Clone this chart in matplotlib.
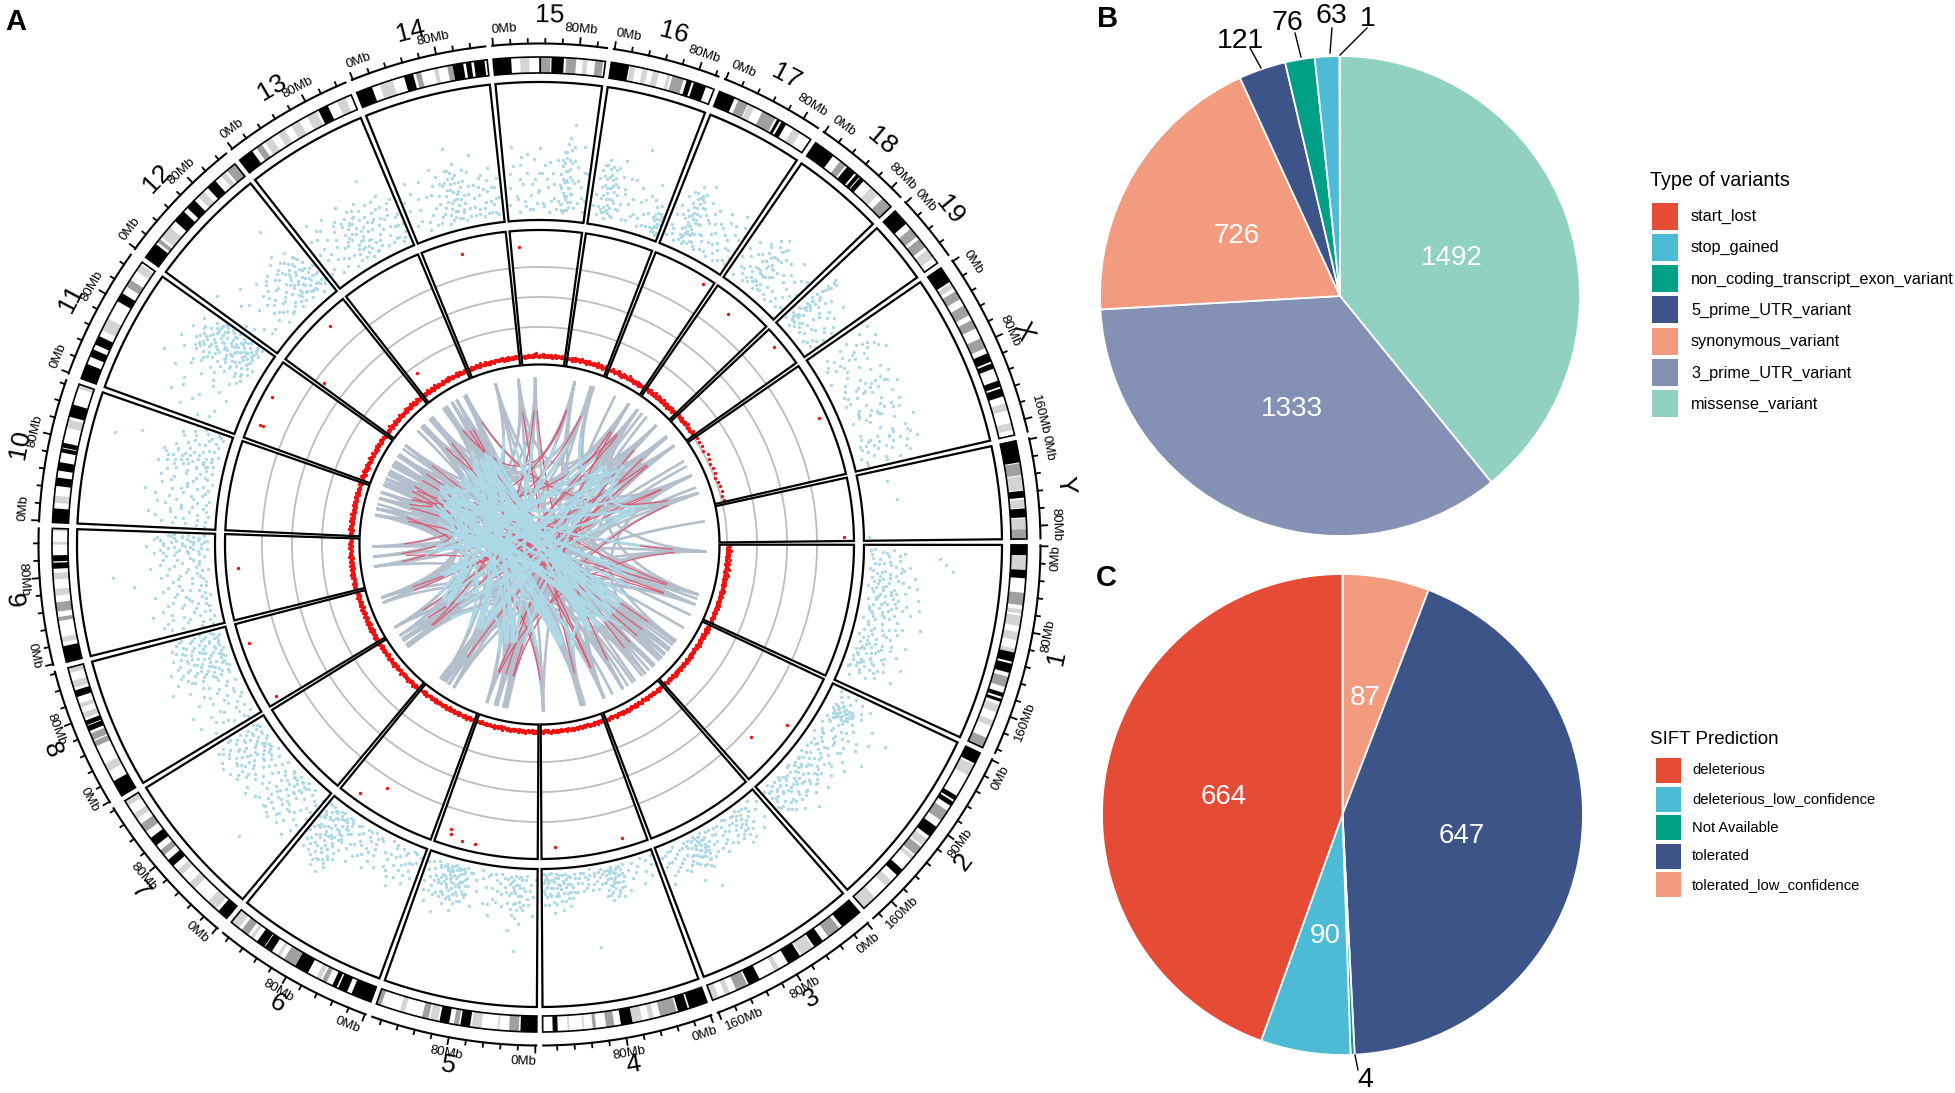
import numpy as np
import matplotlib
matplotlib.use("Agg")
import matplotlib.pyplot as plt
from matplotlib.patches import Polygon, Rectangle

plt.rcParams['font.family'] = ['Liberation Sans', 'DejaVu Sans']

# ---------- data ----------
chrom_names = ['1','2','3','4','5','6','7','8','9','10','11','12','13','14','15','16','17','18','19','X','Y']
chrom_sizes = [195,182,160,156,152,150,145,129,125,131,122,120,120,125,104,98,95,91,61,171,91]

K,D,L = '#000000','#a0a0a0','#d4d4d4'
bands_pct = [
 [(0,5,K),(5,12,L),(12,16,K),(23,29,D),(31,33,L),(34,39,L),(42,46,L),(50,52,L),(52,56.5,K),(57.5,62,K),(64,69,D),(72,74,K),(75,76.5,K),(78,82,L),(86,89,L),(95,100,D)],
 [(0,6,K),(7,13,L),(25,27.5,K),(28.5,31,K),(34,40,D),(44,50,K),(52,56,L),(57,62,D),(63,65,L),(72,76,K),(80,84,L),(92,100,L)],
 [(0,13,K),(15,23,D),(27,33,K),(34,42,L),(43,51,K),(57,60,L),(70,77,K),(78,85,D),(89,92,L),(96,100,L)],
 [(0,11,K),(12,18,K),(19,29,D),(33,36,L),(40,46,L),(46,53,K),(57,62,D),(68,70,D),(75,76,L),(84,85,L),(91,94,K)],
 [(0,10,K),(11,17,D),(23,24,L),(34,40,L),(41,47,K),(48,51,D),(54,60,K),(61,66,L),(67,71,D),(82,85,L),(97,100,D)],
 [(0,13,K),(16,22,K),(23,26,K),(30,33,D),(34,37,L),(43,52,K),(52,60,D),(63,65,L),(69,74,K),(74.5,80,K),(83,85,L),(87,92,D),(94,100,L)],
 [(0,7,K),(9,16,L),(28,33,L),(40,44,L),(48,53,K),(57,61,D),(65,71,K),(76,82,D),(86,90,L),(96,100,L)],
 [(0,12,K),(20,26,L),(40,44,D),(45,50,D),(52,56,K),(56.6,60,K),(62,66,L),(70,73,L),(78,83,K),(85,90,L),(96,100,L)],
 [(0,12,K),(15,19,L),(31,34,D),(38,45,D),(50,55,L),(62,67,L),(70,74.5,K),(75.5,80,K),(88,90,L),(98,100,L)],
 [(0,10,K),(14,19,L),(26,32,K),(37,43,K),(50,53,K),(53.6,57,K),(68,74,L),(76,85,K),(97,100,L)],
 [(0,12,K),(18,24,K),(28,35,K),(40,50,L),(65,72,K),(78,84,D),(92,98,L)],
 [(0,13,K),(15,18,D),(20,30,L),(36,46,K),(50,58,K),(62,68,L),(72,80,K),(86,90,L),(92,100,D)],
 [(0,12,K),(16,21,D),(24,30,L),(36,42,L),(48,55,L),(62,70,L),(72,80,K),(88,95,L)],
 [(0,12,K),(18,28,L),(37,44,K),(46,50,D),(60,63,L),(70,74,D),(74,82,K),(84,88,K),(90,98,K)],
 [(0,16,K),(24,32,L),(41,43,K),(43,51,D),(52,63,K),(65,74,D),(80,84,L),(91,98,D)],
 [(0,17,K),(18,23,L),(30,35,L),(40,46,L),(54,57,L),(59,70,D),(73,78,K),(80,92,K)],
 [(0,16,K),(20,30,D),(31,37,L),(46,60,D),(62,65,K),(67,72,K),(80,88,L)],
 [(0,22,K),(31,38,D),(40,50,K),(52,56,K),(57,62,K),(72,82,L),(88,100,D)],
 [(0,25,K),(35,50,D),(55,70,D),(75,90,L)],
 [(0,9,K),(10,13,L),(15,20,D),(24,30,D),(33,38,D),(44,50,D),(53,58,K),(59,62,K),(69,72.5,K),(73.5,78,K),(82,86,L),(93,97,L)],
 [(0,22,K),(23,35,D),(36,50,L),(51,58,K),(60,68,L),(69,78,K),(79,90,L),(90,100,D)],
]

# pie B
b_names  = ['start_lost','stop_gained','non_coding_transcript_exon_variant','5_prime_UTR_variant','synonymous_variant','3_prime_UTR_variant','missense_variant']
b_counts = [1,63,76,121,726,1333,1492]
b_colors = ['#E64B35','#4DBBD5','#00A087','#3C5488','#F39B7F','#8491B4','#91D1C2']
# pie C
c_names  = ['deleterious','deleterious_low_confidence','Not Available','tolerated','tolerated_low_confidence']
c_counts = [664,90,4,647,87]
c_colors = ['#E64B35','#4DBBD5','#00A087','#3C5488','#F39B7F']

# scatter track: flat lists position %, height %, position %, height % ...
s1 = [2,8,3,22,4,14,5,30,6,6,7,18,8,55,9,12,10,26,11,60,12,8,13,20,14,34,15,65,16,5,17,16,18,28,19,10,20,24,21,38,22,7,23,15,24,30,25,20,26,12,27,40,28,5,29,24,30,16,31,32,32,9,33,22,34,42,35,13,36,28,37,6,38,18,39,34,40,44,41,10,42,24,43,15,44,38,45,8,46,27,47,18,49,12,50,30,51,5,52,48,53,20,54,35,55,10,56,26,57,15,58,32,59,8,60,22,61,14,62,28,63,5,64,18,65,40,66,12,67,24,68,7,69,30,70,16,71,10,72,36,73,20,74,6,75,14,76,26,77,9,78,18,79,42,80,12,81,22,82,7,83,30,84,16,85,10,86,24,87,5,88,38,89,14,91,20,93,8,
      3,5,5,17,7,26,9,7,11,19,13,11,15,28,17,7,19,20,21,13,23,26,25,9,27,18,29,11,31,22,33,14,35,24,37,12,39,20,41,27,43,8,45,18,47,11,49,24,51,14,53,9,55,30,57,21,59,13,61,25,63,12,65,9,67,18,69,12,71,22,73,9,75,28,77,18,79,6,81,14,83,10,85,20,87,13,89,26,22,20,24,12,26,34,28,16,30,8,32,26,34,18,36,12,38,26,40,16,42,32,44,22,46,10,48,20,12,15,14,24,16,30,18,14,66,30,68,14,70,24,72,12,74,18,76,8,78,28,80,20,82,12,84,26,86,6]
s2 = [2,8,3,20,4,14,5,26,6,10,7,34,8,18,9,12,10,28,11,15,12,9,13,22,13,17,14,12,14,30,15,19,15,8,16,24,16,14,17,10,18,20,18,42,19,16,20,26,21,13,22,55,23,7,24,30,25,18,26,11,27,44,28,22,29,6,30,36,31,15,32,25,33,9,34,38,35,20,36,12,37,30,38,5,39,22,40,48,41,14,42,28,43,8,44,18,45,35,46,11,47,24,48,15,49,40,50,7,51,20,52,30,53,12,54,25,55,17,56,6,57,34,58,22,59,10,60,28,61,16,62,8,63,24,64,38,65,13,66,20,67,30,68,9,69,18,70,26,71,12,72,34,73,6,74,22,75,15,76,28,77,10,78,42,79,18,80,24,81,8,82,30,83,14,84,20,85,36,86,11,87,25,88,7,89,17,90,32,91,13,92,22,93,5,94,28,95,16,96,10,97,24,98,7,
      12,14,13,11,13,20,14,16,14,24,15,12,15,22,16,18,17,14,17,22,18,12,18,17,19,10,19,22,20,14,20,20,21,18,22,12,23,20,25,10,27,26,29,16,31,30,33,20,35,10,37,22,39,12,41,30,43,20,45,12,47,8,49,18,51,28,53,20,55,10,57,14,59,24,61,8,63,16,65,28,67,12,69,24,71,6,73,18,75,28,77,20,79,10,81,26,83,6,85,18,87,12,89,26,91,8,93,16,95,24,97,14,60,18,62,26,64,12,66,8,68,30,70,14,72,22,74,10,76,18,78,30,80,12,82,18,84,8,86,28,88,16,90,12,92,30,94,10,96,18,98,22]
s3 = [3,8,6,20,8,12,10,4,12,26,14,10,16,18,18,6,20,14,21,28,22,9,23,20,24,4,25,15,26,30,27,10,28,22,30,6,32,16,34,10,36,24,38,4,40,12,42,18,44,6,46,26,48,10,50,15,52,5,54,22,56,12,58,8,59,18,60,4,60,13,61,24,61,9,62,17,62,30,63,6,63,12,64,21,64,45,65,15,65,8,66,26,67,11,67,4,68,19,69,13,70,7,71,24,72,16,73,36,74,10,75,20,76,5,78,14,80,26,82,8,84,18,86,4,88,12,90,22,92,6,94,14,96,30,98,9,
      15,7,17,13,19,22,21,6,22,17,23,12,24,24,25,8,26,20,27,16,28,6,29,13,30,24,31,10,33,20,35,5,37,14,39,22,41,8,43,14,45,20,47,6,49,22,51,10,53,16,55,5,57,24,58,15,59,9,60,20,61,15,62,6,62,24,63,18,64,10,64,28,65,20,66,6,66,15,67,20,68,10,68,26,69,6,70,17,71,11,72,5,73,22,74,16,75,8,77,22,79,8,81,16,83,24,85,10,87,20,89,6,91,14,93,24,95,8,97,16]
s4 = [2,4,4,10,6,18,8,6,10,14,12,3,14,22,16,8,18,12,20,5,22,16,24,9,26,24,28,4,29,13,30,20,31,7,32,27,33,11,34,16,34,5,35,22,36,9,37,26,38,14,39,4,40,18,41,8,42,28,43,12,44,20,45,6,46,15,48,4,50,10,52,18,54,6,56,14,58,60,58,3,60,10,62,16,64,5,66,12,68,8,70,18,72,5,74,14,75,22,76,7,77,28,78,12,79,18,80,4,81,24,82,9,83,30,84,15,85,5,86,20,87,11,88,26,89,7,90,32,91,14,92,3,93,20,94,9,95,26,96,13,97,5,98,18,99,10,
      30,10,31,16,32,5,33,20,34,11,35,6,36,16,36,24,37,12,38,8,38,20,39,16,40,6,40,12,41,22,42,6,42,17,43,24,44,9,45,14,46,24,47,8,49,15,51,6,53,12,55,8,57,18,59,7,61,13,63,8,65,18,67,5,69,12,71,8,73,18,75,12,76,18,77,6,78,22,79,8,80,14,81,11,82,18,83,5,84,24,85,12,86,7,87,18,88,4,88,14,89,20,90,10,91,24,92,8,93,14,94,4,94,18,95,10,96,20,96,7,97,14,98,8,98,26,99,16,99,4]
s5 = [1,8,3,20,4,34,5,12,7,26,9,5,10,16,12,30,13,8,14,20,15,40,16,12,17,60,18,25,19,6,20,16,21,34,22,10,23,45,24,20,26,8,28,14,30,28,32,5,34,18,36,10,38,24,40,36,42,6,44,16,46,28,48,10,50,4,52,20,54,12,56,32,58,8,60,18,62,26,63,5,64,14,65,22,66,10,67,30,68,16,69,7,70,24,71,12,72,38,73,18,74,5,75,28,76,14,77,8,78,22,79,34,80,10,81,18,82,26,83,6,84,14,85,42,86,20,87,9,88,30,89,16,90,5,91,24,92,11,93,36,94,18,95,7,96,28,97,13,98,22,99,8,
      6,16,8,22,10,8,11,26,12,14,13,20,14,6,14,28,15,14,15,24,16,7,16,20,17,30,18,12,18,36,19,18,20,9,20,26,21,14,22,18,22,30,23,7,24,12,25,26,27,18,29,8,31,20,33,12,35,26,37,6,39,16,41,28,43,8,60,8,61,24,62,12,63,18,64,24,65,8,65,30,66,16,67,6,67,20,68,10,68,26,69,18,70,8,70,32,71,20,71,6,72,14,72,26,73,8,73,30,74,12,74,22,75,6,75,18,76,24,76,10,77,16,77,30,78,12,78,6,79,20,79,10,80,28,80,16,81,8,81,26,82,14,83,20,83,30,84,8,85,16,86,28,87,18,88,8,90,20,92,28]
s6 = [2,8,5,24,7,14,9,5,11,30,13,16,15,10,17,22,19,6,21,36,23,14,25,8,27,26,29,18,31,4,34,14,37,28,40,8,42,20,44,12,46,32,48,5,50,18,52,10,54,26,56,6,58,16,60,34,62,12,64,22,66,7,68,15,70,30,71,10,72,46,73,22,74,14,75,38,76,6,77,28,78,18,79,44,80,10,81,32,82,24,83,5,84,16,85,40,86,26,87,12,88,20,89,35,90,7,91,15,92,30,93,10,94,22,95,42,96,14,97,6,98,26,99,18,82,50,76,52,88,8,72,8,
      4,12,6,6,8,20,10,14,12,24,14,8,16,18,18,28,20,12,22,20,24,30,26,6,28,14,30,24,42,6,43,16,44,26,45,8,47,20,49,12,51,24,53,6,55,18,57,28,59,10,61,20,63,6,65,26,70,16,70,38,71,24,72,14,72,34,73,6,73,40,74,24,74,44,75,12,75,20,76,30,76,42,77,10,77,20,78,34,78,8,79,24,79,14,80,38,80,26,81,18,81,44,82,10,82,36,83,26,83,46,84,8,84,30,85,20,85,12,86,36,86,6,87,24,87,44,88,14,88,30,89,20,89,8,90,28,90,42,91,8,91,22,92,14,92,38,93,24,94,6,94,34,95,16,96,24,96,36,97,16,98,12,99,30,99,6]
s7 = [1,8,3,20,5,34,7,12,9,46,11,24,13,6,15,16,17,30,19,42,20,10,21,20,22,5,23,36,24,14,25,26,26,8,27,18,28,44,29,12,30,28,31,6,32,68,33,20,34,34,35,10,36,24,37,40,38,15,39,30,40,7,42,18,44,38,46,12,48,26,50,6,52,20,54,44,56,14,58,32,60,8,62,22,64,36,65,12,66,28,67,5,68,18,69,40,70,10,71,24,72,32,73,14,74,44,75,8,76,20,77,36,78,26,79,12,80,30,81,46,82,16,83,6,84,24,85,38,86,12,87,28,88,18,89,8,90,34,91,22,92,14,93,42,94,6,95,26,96,16,97,32,98,10,
      2,26,4,14,6,40,8,20,10,32,12,10,14,28,16,38,18,8,20,30,21,14,22,26,23,10,24,38,25,18,26,30,27,8,28,22,29,36,30,14,31,42,32,10,33,28,34,16,35,40,36,10,37,26,38,34,39,8,41,24,43,14,45,30,47,40,49,16,51,30,53,10,55,26,57,40,59,18,61,30,63,14,65,34,66,18,67,42,68,26,69,12,70,36,71,16,72,8,73,28,74,20,75,34,76,12,77,24,78,10,79,36,80,18,81,8,82,34,83,26,84,14,85,44,86,30,87,8,88,36,89,22,90,14,91,40,92,28,93,10,94,18,95,38,96,8,97,22,98,30]
s8 = [2,10,4,36,6,20,8,6,10,28,12,14,14,44,16,8,18,24,20,34,22,12,24,18,26,46,28,6,30,28,32,16,34,38,36,10,38,22,40,32,42,14,44,6,46,26,48,40,50,18,52,52,54,8,55,28,56,20,57,36,58,12,59,46,60,24,61,6,62,32,63,16,64,42,65,27,66,10,67,20,68,36,69,14,70,48,71,24,72,6,73,30,74,18,75,40,76,10,77,26,78,34,79,14,80,6,81,22,82,44,83,30,84,12,85,20,86,36,87,8,88,26,89,15,90,32,91,42,92,10,93,20,94,28,95,6,96,16,97,36,98,24,99,12,
      5,12,9,24,13,32,17,14,21,26,25,8,29,20,33,10,37,28,41,20,45,12,49,30,53,18,55,14,56,34,57,8,58,26,59,18,60,38,61,14,62,22,63,8,64,30,65,18,66,40,67,8,68,26,69,34,70,18,71,10,72,28,73,42,74,8,75,22,76,34,77,16,78,8,79,30,80,20,81,38,82,12,83,24,84,34,85,8,86,28,87,18,88,40,89,8,90,22,91,14,92,34,93,8,94,18,95,38,96,26,97,10,98,34,99,20]
s9 = [2,8,4,30,6,15,8,44,10,6,12,24,14,36,16,12,18,20,20,50,22,8,24,28,26,16,28,38,30,10,32,22,34,6,36,32,38,46,40,14,42,26,44,8,46,36,48,18,50,60,52,10,54,28,56,40,58,14,60,22,62,6,64,34,66,48,68,12,70,24,72,16,74,38,76,8,78,30,80,20,81,44,82,12,83,26,84,6,85,34,86,18,87,50,88,24,89,10,90,38,91,16,92,28,93,6,94,44,95,20,96,12,97,32,98,24,99,8,60,75,
      3,16,5,38,7,10,9,26,11,40,13,16,15,28,17,8,19,36,21,18,23,42,25,10,27,26,29,20,31,34,33,12,35,24,37,10,39,30,41,20,43,40,45,12,47,28,49,8,51,32,53,18,55,12,57,26,59,36,61,10,63,20,65,14,67,30,69,40,71,12,73,28,75,18,77,36,79,12,80,38,81,28,82,20,83,40,84,16,85,10,86,30,87,22,88,38,89,16,90,24,91,32,91,8,92,18,93,40,94,12,95,30,96,24,96,42,97,16,98,8,98,34,99,20,99,30]
s10 = [2,8,4,22,6,40,8,14,10,30,12,6,14,50,16,20,18,34,20,10,22,26,24,44,26,15,28,6,30,36,32,20,34,54,36,10,38,28,40,16,42,42,44,24,46,6,48,34,50,18,52,12,54,40,56,26,58,8,60,20,61,48,62,30,63,14,64,36,65,8,66,24,67,42,68,16,69,32,70,10,71,26,72,46,73,20,74,83,75,36,76,6,78,28,80,14,82,65,84,22,86,8,88,34,90,16,92,26,94,6,96,18,98,10,
      3,14,5,32,7,8,9,24,11,44,13,14,15,34,17,8,19,26,21,18,23,38,25,8,27,30,29,18,31,46,33,12,35,26,37,34,39,8,41,24,43,12,45,36,47,20,49,44,51,10,53,26,55,16,57,34,59,12,60,36,61,20,62,42,63,26,64,12,65,32,66,16,67,28,68,38,69,20,70,44,71,14,72,30,73,10,74,36,75,24,77,18,79,38,81,10,83,30,85,18,87,26,89,10,91,36,93,14,95,28,97,8,99,20]
s11 = [5,30,10,45,15,20,20,55,25,35,30,15,34,50,38,28,42,60,45,40,48,18,50,72,52,32,54,50,56,12,58,26,60,44,61,60,62,18,63,34,64,52,65,24,66,10,67,42,68,66,69,30,70,16,71,48,72,36,73,8,74,56,75,26,76,40,77,14,78,32,79,50,80,20,81,62,82,38,83,12,84,46,85,28,86,54,87,18,88,36,89,10,90,44,91,24,92,58,93,32,94,14,95,48,96,22,97,40,98,10,99,30,72,22,76,54,80,44,84,30,88,50,92,40,96,34,68,50,64,38,
       8,22,18,38,28,48,36,22,44,30,50,50,52,14,54,36,56,44,58,18,60,30,61,14,62,42,63,24,64,14,65,46,66,28,67,54,68,20,69,38,70,30,70,52,71,24,72,12,72,44,73,30,73,50,74,20,74,38,75,14,75,44,76,28,77,34,77,48,78,18,78,42,79,26,79,12,80,34,80,52,81,26,81,16,82,48,82,24,83,36,83,18,84,54,84,22,85,40,85,14,86,32,86,20,87,44,87,26,88,14,88,28,89,40,89,22,90,16,90,32,91,46,91,12,92,26,93,44,93,18,94,30,94,38,95,24,96,14,96,44,97,26,98,36,98,20,99,14,99,42]
s12 = [3,30,9,60,12,18,16,42,20,12,24,30,28,50,32,20,36,8,38,34,40,16,42,44,44,26,46,10,48,38,50,20,52,30,54,12,56,42,58,24,60,8,62,34,64,28,65,16,66,46,67,22,68,10,69,36,70,18,71,28,72,50,73,14,74,32,75,24,76,8,77,40,78,18,79,30,80,69,81,12,82,36,83,22,84,46,85,10,86,28,87,18,88,38,89,6,90,24,91,14,92,32,94,20,96,10,98,26,
       6,24,14,12,22,38,30,14,34,28,37,18,39,24,41,30,43,14,45,34,47,20,49,10,51,40,53,22,55,30,57,14,59,36,61,20,63,12,65,38,66,26,67,14,68,40,69,24,70,34,71,16,72,30,73,22,74,42,75,14,76,34,77,20,78,28,79,12,80,38,81,24,82,16,83,34,84,12,85,30,86,20,87,40,88,14,89,28,90,36,91,20,92,12,93,26,95,14,97,20,99,12]
s13 = [2,12,5,40,8,22,10,51,12,30,14,8,16,44,18,18,20,34,22,10,24,26,26,48,28,14,30,36,32,6,34,22,36,42,38,30,40,36,41,12,42,24,44,50,45,18,46,8,47,34,48,26,50,15,51,44,52,30,53,6,54,22,55,38,56,12,58,28,60,18,61,46,62,8,64,34,66,24,68,14,70,42,72,30,74,60,75,8,76,20,78,36,80,14,82,26,84,44,86,10,88,32,90,18,92,6,94,24,96,38,98,12,
       4,28,7,14,11,38,15,24,19,42,23,16,27,30,31,22,33,40,35,14,37,24,39,8,40,26,41,38,43,16,44,32,45,28,46,40,47,14,48,36,49,20,50,34,51,10,52,20,53,38,54,14,55,26,56,42,57,18,59,34,60,8,61,24,62,40,63,14,65,30,67,10,69,28,71,18,73,34,75,24,77,42,79,28,81,8,83,36,85,20,87,28,89,10,91,36,93,18,95,8,97,26,99,18]
s14 = [2,31,6,12,10,36,14,22,18,6,22,42,26,16,30,30,32,8,34,48,36,22,38,14,40,36,42,6,44,26,46,36,47,16,48,44,49,10,50,30,51,22,52,60,53,8,54,38,55,18,56,48,57,28,58,12,59,34,60,6,62,24,64,42,66,14,68,30,70,8,72,20,74,52,76,12,78,28,80,6,82,36,84,16,86,24,88,8,90,40,92,14,94,26,96,6,98,18,
       4,24,8,44,12,14,16,30,20,12,24,30,28,8,31,20,33,36,35,12,37,28,39,42,41,18,43,34,44,12,45,22,46,8,47,30,48,20,49,38,50,14,50,44,51,34,52,14,52,28,53,42,54,22,55,34,56,8,56,26,57,40,58,22,59,14,60,30,61,18,63,34,65,8,67,24,69,40,71,14,73,30,75,8,77,22,79,34,81,12,83,26,85,8,87,32,89,16,91,26,93,8,95,18,97,32]
s15 = [3,12,6,34,9,54,12,18,15,6,18,40,21,26,24,10,27,48,30,18,33,8,36,30,39,20,40,34,42,52,45,12,48,40,51,24,54,6,57,34,60,16,63,8,66,26,68,12,69,40,70,20,71,6,72,50,73,30,74,16,75,60,76,8,77,38,78,24,79,70,80,14,82,44,85,10,88,30,91,55,94,18,97,8,99,36,
       5,24,10,40,14,16,17,30,20,46,23,14,26,34,29,8,32,26,35,44,38,12,41,22,44,34,47,10,50,30,53,42,56,14,59,26,62,44,65,14,67,34,68,24,68,44,69,12,69,30,70,50,70,8,71,28,71,42,72,18,72,36,73,8,73,46,74,28,74,56,75,18,75,36,76,24,76,44,77,14,77,52,78,32,78,10,79,20,79,42,80,30,80,54,81,20,83,28,86,40,89,14,92,26,95,36,98,16]
s16 = [3,14,6,34,9,8,11,44,12,20,14,30,15,10,16,48,18,24,19,6,20,38,21,16,22,28,24,10,25,42,26,20,28,32,30,8,32,24,34,50,36,14,40,30,44,8,48,20,52,38,56,12,60,62,64,24,68,6,72,16,76,30,80,8,84,40,88,18,90,8,92,26,94,12,96,4,98,18,
       5,22,8,40,10,14,11,28,12,36,13,12,13,44,14,22,15,34,16,14,17,28,17,42,18,10,18,36,19,20,20,28,21,44,22,12,23,34,23,20,24,30,25,14,26,36,27,8,27,26,28,44,29,18,31,30,33,14,35,38,38,18,42,26,46,38,50,8,54,24,58,14,62,34,66,12,70,26,74,8,78,18,82,28,85,8,86,16,87,24,88,6,89,14,90,20,91,10,92,16,93,6,94,20,95,10,96,16,97,6,99,12]
s17 = [3,8,6,24,9,14,12,40,15,6,18,30,20,16,21,44,22,8,23,34,24,22,25,50,26,12,27,30,28,6,29,38,30,20,31,14,32,46,33,26,34,8,35,36,36,16,37,54,38,24,40,10,42,32,45,18,48,6,50,28,53,14,56,40,59,22,62,8,65,32,68,16,71,42,74,10,77,26,80,6,83,36,86,18,89,46,92,10,95,28,98,14,
       5,16,8,32,11,10,14,26,17,44,19,24,20,36,21,12,22,26,23,18,24,40,24,10,25,28,26,42,26,20,27,14,28,34,28,44,29,16,29,26,30,8,30,42,31,30,32,18,33,40,34,24,35,14,36,30,37,10,38,36,39,16,41,24,43,42,44,8,47,30,49,18,52,36,55,8,58,30,61,16,64,24,67,6,70,30,73,18,76,36,79,14,82,24,85,8,88,30,91,18,94,38,97,8]
s18 = [4,20,8,6,12,36,16,14,20,28,24,6,26,40,28,16,30,26,32,8,34,46,36,20,38,32,40,12,41,24,42,50,43,34,44,6,45,18,46,42,48,26,50,12,52,34,54,8,56,22,60,14,64,38,68,6,72,24,76,44,80,12,84,30,88,8,92,20,96,36,99,10,
       6,28,10,14,14,24,18,10,22,18,25,30,27,10,28,38,29,20,31,34,32,20,33,12,35,28,37,10,38,42,39,18,40,34,41,12,42,26,43,18,44,40,45,28,46,10,47,34,48,18,49,44,50,26,51,8,53,20,55,38,58,26,62,8,66,28,70,14,74,32,78,8,82,22,86,16,90,34,94,10,98,24]
s19 = [4,8,8,20,10,32,12,12,14,40,15,22,16,52,17,10,18,30,19,44,20,16,21,36,22,6,23,26,24,50,26,18,30,8,34,30,38,14,42,40,46,22,50,8,55,34,60,16,65,44,70,6,75,24,80,12,85,30,90,8,95,18,
       6,14,10,20,12,26,13,36,14,14,15,46,16,10,16,30,17,24,17,42,18,16,18,50,19,26,19,10,20,36,21,22,22,46,22,14,23,34,24,10,25,30,28,24,32,12,36,36,40,10,44,28,48,16,52,26,58,10,62,30,68,18,72,34,78,8,82,22,88,14,92,26,98,10]
sX = [3,50,6,30,9,12,11,52,12,40,13,22,14,32,15,48,16,8,17,26,18,38,19,14,21,55,24,20,27,6,30,36,33,14,36,48,38,28,39,36,40,20,41,42,42,30,43,12,44,24,45,50,48,8,52,34,55,16,57,46,58,24,59,34,60,14,61,40,62,28,63,8,66,20,70,52,74,10,76,34,78,22,79,44,80,14,81,30,82,8,83,38,84,18,85,50,86,26,88,12,90,40,92,6,94,24,96,34,98,10,
      5,42,8,24,10,36,12,16,13,44,14,10,15,30,16,42,17,18,18,50,19,30,20,20,22,38,25,30,28,18,31,44,34,26,37,12,38,40,39,22,40,32,41,10,42,44,43,26,44,36,45,18,46,30,47,12,50,44,53,22,56,32,57,14,58,40,59,14,60,28,61,22,62,44,63,30,64,18,68,38,72,26,75,44,77,10,78,34,79,16,80,30,81,46,82,22,83,12,84,32,85,8,86,42,87,20,89,30,91,16,93,42,95,10,97,24]
sY = [15,21,43,26,96,4]
scatter_all = [s1,s2,s3,s4,s5,s6,s7,s8,s9,s10,s11,s12,s13,s14,s15,s16,s17,s18,s19,sX,sY]

# red track: main band heights (% of the track), evenly along each chromosome
r1 = [7.5,6.5,5.5,7,6,8.5,6.5,5.5,7.5,6,7,5,6.5,8,5.5,7,6,7.5,5,6.5,5.5,7,6,8,5.5,6.5,5,7,6,8.5,5.5,6.5,7.5,5,6,7,5.5,6.5,7.5,5,7,6,6.5,5.5,7.5,6,5,7,5.5,6.5,6,7.5,5,6.5,5.5,7,6,5,6.5,5.5,7.5,6,5.5,7,5,6.5,6,5.5,7,5,6,6.5,5.5,7,5,6,5.5,6.5]
r2 = [6,5,6.5,5.5,4.5,7,5,6,5.5,6.5,4.5,5.5,7,5,6,5.5,4.5,6.5,5,6,5.5,7,4.5,5.5,6.5,5,6,4.5,5.5,6.5,5,6,5.5,4.5,7,5,6,5.5,6.5,4.5,5.5,5,6.5,6,4.5,5.5,7,5,6,4.5,5.5,6.5,5,5.5,6,4.5,6.5,5,5.5,7,4.5,6,5,5.5,6.5,4.5,6,5,5.5,6.5,4.5,5.5]
r3 = [5.5,4.5,6,5,6.5,4.5,5.5,6,5,4.5,6.5,5.5,5,6,4.5,5.5,5,6.5,4.5,5.5,6,5,4.5,5.5,6.5,5,6,4.5,5.5,5,6,4.5,6.5,5,5.5,4.5,6,5,5.5,6.5,4.5,5,6,5.5,4.5,6.5,5,5.5,6,4.5,5.5,5,6.5,4.5,5.5,5,6,4.5,5,5.5,6.5,5]
r4 = [5.5,4.5,6,5,4.5,6.5,5,5.5,4.5,6,5,5.5,4.5,6.5,5,4.5,5.5,6,4.5,5,6.5,5.5,4.5,5,6,4.5,5.5,5,6.5,4.5,5,6,5.5,4.5,5,6.5,4.5,5.5,5,6,4.5,5.5,5,6.5,4.5,5,6,5.5,4.5,5,6.5,5.5,4.5,6,5,4.5,5.5,6.5,5]
r5 = [5.5,4.5,6,5,6.5,4.5,5.5,5,6,4.5,5.5,6.5,5,4.5,6,5,5.5,4.5,6.5,5,5.5,4.5,6,5,4.5,5.5,6.5,5,4.5,6,5.5,5,4.5,6.5,5.5,4.5,5,6,4.5,5.5,5,6.5,4.5,5.5,6,5,4.5,5.5,5,6.5,4.5,6,5,5.5,4.5,6,5,5.5]
r6 = [6,5,5.5,6.5,4.5,6,5,7,5.5,4.5,6.5,5,6,5.5,4.5,7,5,6,5.5,6.5,4.5,5.5,6,5,6.5,4.5,5.5,7,5,6,4.5,5.5,6.5,5,6,4.5,5.5,6.5,5,7,4.5,6,5.5,5,6.5,4.5,5.5,6,5,7,5.5,4.5,6.5,5,6,5.5]
r7 = [6.5,5.5,7,5,6,7.5,5.5,6.5,5,7,6,5.5,7.5,5,6.5,6,5.5,7,5,6.5,5.5,7.5,6,5,6.5,5.5,7,6,5,6.5,5.5,7.5,5,6,7,5.5,6.5,5,6,7.5,5.5,6.5,5,7,6,5.5,6.5,5,7,6,5.5,6.5,5,6,7]
r8 = [6,7,5.5,6.5,7.5,5,6,7,5.5,6.5,5,7.5,6,5.5,7,6.5,5,6,7.5,5.5,6.5,7,5,6,5.5,7.5,6.5,5,7,6,5.5,6.5,7.5,5,6,7,5.5,6.5,5,6,7,5.5,6.5,7.5,5,6,5.5,6.5]
r9 = [7,6,7.5,6.5,5.5,8,6.5,6,7,5.5,7.5,6.5,6,8,5.5,7,6.5,6,7.5,5.5,7,6,8,6.5,5.5,7.5,6,7,6.5,5.5,8,6,7,6.5,7.5,5.5,6.5,6,8,7,5.5,6.5,7.5,6,7,5.5,6.5]
r10 = [6.5,7.5,6,7,5.5,8,6.5,6,7.5,7,5.5,6.5,8,6,7,7.5,5.5,6.5,6,8,7,5.5,6.5,7.5,6,7,5.5,8,6.5,6,7.5,7,5.5,6.5,6,7.5,7,5.5,8,6.5,6,7,7.5,5.5,6.5,6,7,7.5,5.5]
r11 = [7,6,8,6.5,7.5,5.5,7,8.5,6.5,6,7.5,7,5.5,8,6.5,6,7.5,7,5.5,6.5,8,6,7.5,6.5,5.5,7,8,6.5,6,7.5,7,5.5,6.5,8,6,7.5,6.5,7,5.5,8,6,7,6.5,7.5,6,5.5]
r12 = [6.5,5.5,7.5,6,7,8.5,5.5,6.5,7.5,6,7,5.5,8,6.5,6,7.5,5.5,7,6.5,8.5,6,5.5,7.5,6.5,7,6,5.5,8,6.5,7.5,6,7,5.5,6.5,8,6,7,7.5,5.5,6.5,6,8,7,5.5,6.5,7.5]
r13 = [7,6,7.5,6.5,5.5,8,7,6,6.5,7.5,5.5,7,6,8,6.5,5.5,7.5,6,7,6.5,5.5,8,6,7,6.5,7.5,5.5,6.5,8,6,7,5.5,7.5,6.5,6,7,8,5.5,6.5,7.5,6,7,5.5,6.5,7.5,6]
r14 = [6.5,5.5,7.5,6,7,5.5,6.5,7.5,6,7,5.5,8,6.5,6,7,5.5,7.5,6.5,6,7,5.5,7.5,6,6.5,5.5,7,7.5,6,6.5,5.5,7,6,7.5,5.5,6.5,6,7,5.5,7.5,6.5,6,7,5.5,6.5,7.5,6,5.5,7]
r15 = [6,6.5,5.5,7,6,7.5,5.5,6.5,7,6,5.5,7.5,6.5,8.5,6,5.5,7,6.5,6,7.5,5.5,7,6.5,5.5,7.5,6,6.5,7,5.5,6,7.5,6.5,5.5,7,6,6.5,5.5,7.5,6,7]
r16 = [6.5,5.5,6,7,5,6.5,7.5,5.5,6,7,5.5,6.5,5,7.5,6,5.5,6.5,7,5,6,7.5,5.5,6.5,6,5,7,5.5,6.5,7.5,5,6,5.5,7,6.5,5,6,7.5,5.5]
r17 = [6.5,5.5,7.5,6,7,5,6.5,6,8,5.5,7,6,5,7.5,6.5,5.5,7,6,5,8.5,6.5,5.5,7.5,6,5,7,6.5,5.5,7.5,6,5,7,5.5,6.5,6,7.5]
r18 = [7,6,5.5,7.5,6.5,5,7,6,8,5.5,6.5,5,7.5,6,7,5.5,6.5,5,8,6,7,5.5,7.5,6.5,5,6,7,5.5,7.5,6.5,5,7,6,6.5]
r19 = [7.5,6.5,7,6,8,5.5,7,6.5,7.5,6,7,8,6.5,6,7.5,7,6,6.5,8,7,6.5,7.5]
rX = [8,7,7.5,6.5,8.5,7,6,7.5,7,6,6.5,7,7.5,6.5,7]
rY = []
red_all = [r1,r2,r3,r4,r5,r6,r7,r8,r9,r10,r11,r12,r13,r14,r15,r16,r17,r18,r19,rX,rY]
# isolated red points: (chromosome index, position %, height %)
red_out = [(14,10,88),(13,45,90),(16,86,95),(17,41,88),(18,37,94),(19,47,94),(11,67,91),(11,4,66),(10,58,93),(10,20,92),(10,21,90),
           (12,16,23),(8,60,91),(7,75,94),(7,6,92),(5,83,94),(5,62,80),(4,89,88),(4,87,91),(4,75,94),(4,62,94),(3,88,91),(3,22,93),(1,74,79),(1,47,94),(20,95,93)]
grid_levels = [5.6,27.9,50.2,72.5]

# chord ends (degrees round the circle)
link_ends = [105.3,97.3,91.5,77.8,71.1,57.6,54,45.6,40.4,36.3,24.4,17.9,-2.4,-17.5,-21.1,-35.3,-39.3,-42.9,-47,-50.7,-60,-67.2,-74.9,-88.7,-101.9,-104.8,-108.4,-120.9,-123,-125.8,-142.4,-144.8,-146.9,-150.2,-159.6,-161.4,-172.4,-175.8,-179.3,169.8,167.6,163.9,161.7,159.1,156.8,154.5,151.2,147.9,143.5,134.6,130.6,124.6,121.6,119.8,116.2]
blue_links = [(0,20),(0,33),(0,14),(1,24),(1,5),(1,40),(2,27),(2,22),(2,46),(3,30),(3,45),(3,19),(4,34),(4,49),(4,15),(5,36),(5,41),(5,23),(6,37),(6,44),(6,13),(7,33),(7,47),(7,25),(8,35),(8,50),(8,21),(9,31),(9,51),(9,28),(10,43),(10,38),(10,17),(11,42),(11,26),(11,54),(12,45),(12,29),(12,4),(13,46),(13,52),(13,32),(14,48),(14,53),(14,30),(15,49),(15,36),(15,39),(16,50),(16,35),(16,40),(17,51),(17,34),(17,41),(18,52),(18,33),(18,42),(19,53),(19,31),(19,44),(20,54),(20,44),(20,47),(21,45),(21,46),(21,1),(22,48),(22,43),(22,3),(23,49),(23,0),(23,42),(24,50),(24,5),(24,8),(25,51),(25,6),(25,9),(26,52),(26,7),(26,10),(27,53),(27,8),(27,12),(28,54),(28,9),(28,7),(29,45),(29,10),(29,6),(30,46),(30,11),(30,5),(31,47),(31,12),(31,4),(32,48),(32,13),(32,3),(33,44),(33,14),(34,45),(34,7),(35,46),(35,9),(36,47),(36,10),(37,48),(37,11),(38,49),(38,12),(39,16),(39,8),(40,17),(40,7),(41,18),(41,9),(42,19),(43,20),(44,21),(45,22),(46,23),(47,24),(48,25),(49,26),(50,27),(51,28),(52,29),(53,30),(54,31),(45,13),(46,14),(47,15),(45,16),(46,17),(44,18),(43,19),(42,21),(41,22),(40,24),(39,25),(51,20),(52,21),(53,22),(54,24),(49,16),(50,15),(0,45),(1,44),(2,43),(4,8),(5,9),(6,10),(7,11),(15,20),(16,21),(17,22),(24,28),(25,29),(26,30),(34,39),(35,40),(46,51),(47,52),(48,53)]
red_links = [(3,41),(4,38),(5,25),(6,42),(8,26),(10,35),(11,24),(12,44),(13,49),(14,37),(15,46),(17,47),(19,52),(20,2),(21,50),(22,1),(23,40),(24,7),(26,12),(28,9),(30,5),(32,10),(36,45),(37,44),(39,13),(41,14),(43,16),(48,18),(51,3),(53,21),(54,11),(2,30),(6,33),(9,34)]
# extra links of the thick bundles: (degrees, degrees)
bundle_links = [(155.3,-52),(153.7,-44),(155,-37),(154,-19),(152,-30),(150.4,-56),(151.9,-25),(147.2,-64),(135.2,-44),(134,-58),(131.3,-49),(125.3,-41),(123.9,-55),(116.9,-60),
                (-125,40),(-126.6,28),(-124.3,52),(-102.6,63),(-101.2,50),(-105.5,72),(-74.2,137),(-75.6,124),(-74.6,150),(-142,30),(-143.1,20),(-145.5,8),(-46.3,166),(-41.5,158),(-38.5,145),(-36,130)]

# ---------- layout ----------
W,H = 1955,1093
CX,CY = 539.5,544.5
GAP = 1.0
START = -0.2
deg_per_mb = (360-GAP*len(chrom_sizes))/sum(chrom_sizes)
R_AXIS,R_ID1,R_ID0 = 501,487.5,471.5
R_S1,R_S0 = 462.5,324.5
R_T1,R_T0 = 314.5,180
R_LINK = 167
EXT = 0.15

fig = plt.figure(figsize=(W/100,H/100),dpi=100)

def pie_axes(cx,cy,r):
    a = fig.add_axes([(cx-r)/W,1-(cy+r)/H,2*r/W,2*r/H])
    a.set_xlim(-1,1); a.set_ylim(-1,1); a.axis('off')
    return a

axb = pie_axes(1340,296,240)
axb.pie(b_counts[::-1],colors=b_colors[::-1],startangle=90,counterclock=False,radius=1,
        wedgeprops=dict(edgecolor='white',linewidth=1.3))
axb.set_xlim(-1,1); axb.set_ylim(-1,1)
axc = pie_axes(1342.5,814.5,240.5)
axc.pie(c_counts[::-1],colors=c_colors[::-1],startangle=90,counterclock=False,radius=1,
        wedgeprops=dict(edgecolor='white',linewidth=1.3))
axc.set_xlim(-1,1); axc.set_ylim(-1,1)

ax = fig.add_axes([0,0,1,1])
ax.set_xlim(0,W); ax.set_ylim(H,0); ax.axis('off'); ax.patch.set_alpha(0)

def pol(theta,r):
    t = np.radians(theta)
    return CX+r*np.cos(t), CY-r*np.sin(t)

def sector(a0,a1,r0,r1,**kw):
    t = np.linspace(a0,a1,max(4,int(abs(a1-a0)*3)))
    x1,y1 = pol(t,r1); x0,y0 = pol(t[::-1],r0)
    ax.add_patch(Polygon(np.c_[np.r_[x1,x0],np.r_[y1,y0]],closed=True,**kw))

starts = []
cum = START
for size in chrom_sizes:
    starts.append(cum)
    cum -= size*deg_per_mb+GAP

def theta_of(i,mb):
    return starts[i]-np.asarray(mb)*deg_per_mb

# links
def link(a,b,color,lw,z,t0=0.0,t1=1.0):
    p0 = np.array(pol(a,R_LINK)); p2 = np.array(pol(b,R_LINK))
    c = np.array([CX,CY])+0.05*((p0+p2)/2-np.array([CX,CY]))
    t = np.linspace(t0,t1,50)[:,None]
    pts = (1-t)**2*p0+2*t*(1-t)*c+t**2*p2
    ax.plot(pts[:,0],pts[:,1],color=color,lw=lw,zorder=z,solid_capstyle='butt')
for a,b in blue_links:
    link(link_ends[a],link_ends[b],'#b3bfcd',1.9,2.0)
for a,b in bundle_links:
    link(a,b,'#b3bfcd',1.9,2.0)
for a,b in red_links:
    link(link_ends[a],link_ends[b],'#dc5a72',0.9,2.2,0.1,0.9)
for a,b in blue_links[::3]:
    link(link_ends[a],link_ends[b],'#add8e6',1.9,2.4,0.2,0.8)
for a,b in bundle_links[::2]:
    link(a,b,'#add8e6',1.9,2.4,0.2,0.8)

def facing(th):
    rot = th%360
    if rot>180: rot -= 360
    return rot-90 if rot>=0 else rot+90

for i,(name,size) in enumerate(zip(chrom_names,chrom_sizes)):
    a0 = theta_of(i,0); a1 = theta_of(i,size)
    mid = (a0+a1)/2
    # grid of red track
    for g in grid_levels:
        t = np.linspace(a0,a1,60)
        ax.plot(*pol(t,R_T0+(R_T1-R_T0)*g/100),color='#bdbdbd',lw=1.3,zorder=3)
    # track frames
    sector(a0+EXT,a1-EXT,R_S0,R_S1,fc='none',ec='black',lw=1.6,zorder=6,joinstyle='miter')
    sector(a0+EXT,a1-EXT,R_T0,R_T1,fc='none',ec='black',lw=1.6,zorder=6,joinstyle='miter')
    # ideogram
    sector(a0+EXT,a1-EXT,R_ID0,R_ID1,fc='white',ec='none',zorder=4)
    for b0,b1,c in bands_pct[i]:
        m0 = a0+EXT-(a0-a1+2*EXT)*b0/100; m1 = a0+EXT-(a0-a1+2*EXT)*b1/100
        sector(m0,m1,R_ID0,R_ID1,fc=c,ec='none',zorder=5)
    sector(a0+EXT,a1-EXT,R_ID0,R_ID1,fc='none',ec='black',lw=1.2,zorder=6,joinstyle='miter')
    # axis
    t = np.linspace(a0+0.1,a1-0.1,60)
    ax.plot(*pol(t,R_AXIS),color='black',lw=1.5,zorder=6)
    for mb in range(0,size+1,16):
        th = theta_of(i,mb)
        major = mb%80==0
        xx,yy = pol(th,np.array([R_AXIS,R_AXIS+(7 if major else 4.5)]))
        ax.plot(xx,yy,color='black',lw=1.3,zorder=6)
        if major:
            tl = th
            if mb==0:
                tl = th-1.35
            elif size-mb<8:
                tl = th+2.4
            tx,ty = pol(tl,R_AXIS+16)
            ax.text(tx,ty,f'{mb}Mb',fontsize=9.5,rotation=facing(tl),rotation_mode='anchor',ha='center',va='center',zorder=7)
    tx,ty = pol(mid,529)
    ax.text(tx,ty,name,fontsize=19,rotation=facing(mid),rotation_mode='anchor',ha='center',va='center',zorder=7)
    # scatter track
    pts = np.array(scatter_all[i],dtype=float).reshape(-1,2)
    xx,yy = pol(theta_of(i,pts[:,0]/100*size),R_S0+(R_S1-R_S0)*pts[:,1]/100)
    ax.scatter(xx,yy,s=6,color='#add8e6',linewidths=0,zorder=5)
    # red band
    vals = np.array(red_all[i],dtype=float)
    if len(vals):
        pos = np.linspace(1.5,98.5,len(vals))
        xx,yy = pol(theta_of(i,pos/100*size),R_T0+(R_T1-R_T0)*vals/100)
        ax.scatter(xx,yy,s=6,color='#f01010',linewidths=0,zorder=5)

for c,p,h in red_out:
    xx,yy = pol(theta_of(c,p/100*chrom_sizes[c]),R_T0+(R_T1-R_T0)*h/100)
    ax.scatter([xx],[yy],s=6,color='#f01010',linewidths=0,zorder=5)

# pie labels
for txt,x,y in [('1492',1452,258),('1333',1292,409),('726',1237,236),('87',1365,698),('664',1224,797),('90',1325,936),('647',1461.5,836)]:
    ax.text(x,y,txt,color='white',fontsize=20,ha='center',va='center',zorder=8)
for txt,x,y in [('121',1241,41),('76',1287,23),('63',1331,16),('1',1368,19),('4',1365,1080)]:
    ax.text(x,y,txt,color='black',fontsize=20.5,ha='center',va='center',zorder=8)
for x0,y0,x1,y1 in [(1250,48,1261,68),(1295,33,1301,57),(1332,28,1330,53),(1367,28,1340,55),(1355,1055,1358,1070)]:
    ax.plot([x0,x1],[y0,y1],color='black',lw=1.0,zorder=8)

# panel letters
for txt,x,y in [('A',16,22),('B',1108,19),('C',1106,578)]:
    ax.text(x,y,txt,fontsize=21,fontweight='bold',ha='center',va='center')

# legends
ax.text(1650,181,'Type of variants',fontsize=14.2,ha='left',va='center')
for k,(n,c) in enumerate(zip(b_names,b_colors)):
    y = 202.5+31.33*k
    ax.add_patch(Rectangle((1652,y),26,27,fc=c,ec='none'))
    ax.text(1691,y+14,n,fontsize=11.7,ha='left',va='center')
ax.text(1650,740,'SIFT Prediction',fontsize=13.5,ha='left',va='center')
for k,(n,c) in enumerate(zip(c_names,c_colors)):
    y = 758+28.6*k
    ax.add_patch(Rectangle((1656.5,y),24.5,25,fc=c,ec='none'))
    ax.text(1692,y+12.5,n,fontsize=10.6,ha='left',va='center')

fig.savefig('out.png',dpi=100,facecolor='white')
